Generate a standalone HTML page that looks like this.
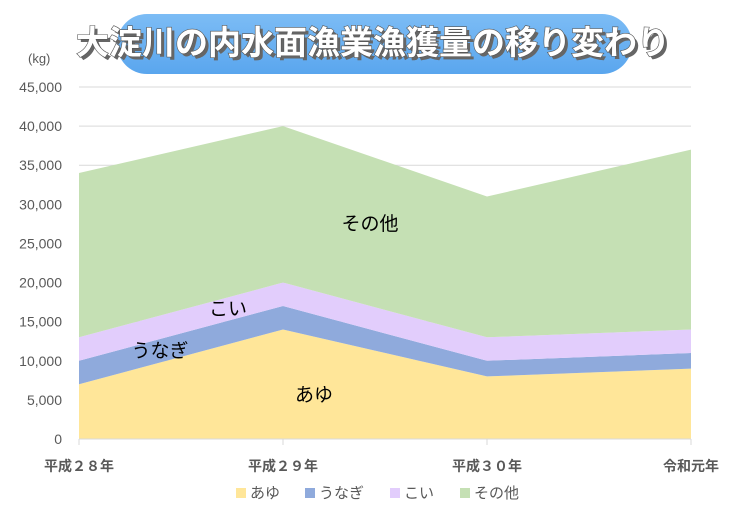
<!DOCTYPE html>
<html><head><meta charset="utf-8"><style>
body{margin:0;background:#fff;width:739px;height:518px;overflow:hidden;font-family:"Liberation Sans","Noto Sans CJK JP",sans-serif}
</style></head><body>
<svg width="739" height="518">
<defs><linearGradient id="tg" x1="0" y1="0" x2="0" y2="1"><stop offset="0" stop-color="#7cbcf5"/><stop offset="1" stop-color="#5aa6ee"/></linearGradient></defs>
<rect x="117" y="14" width="515" height="60" rx="30" fill="url(#tg)"/>
<text x="376" y="57" text-anchor="middle" font-size="33" font-weight="bold" fill="#666" font-family="Liberation Sans, Noto Sans CJK JP, sans-serif">大淀川の内水面漁業漁獲量の移り変わり</text>
<text x="373" y="54" text-anchor="middle" font-size="33" font-weight="bold" fill="#fff" stroke="#555" stroke-width="1.2" paint-order="stroke" font-family="Liberation Sans, Noto Sans CJK JP, sans-serif">大淀川の内水面漁業漁獲量の移り変わり</text>
<text x="28" y="63" font-size="13" fill="#595959">(kg)</text>
<g id="grid"></g><g id="areas"></g><g id="axes"></g><g id="legend"></g>
</svg>
<script>
const categories=["平成２８年","平成２９年","平成３０年","令和元年"];
const seriesNames=["あゆ","うなぎ","こい","その他"];
const ayu=[7000,14000,8000,9000];
const unagi=[3000,3000,2000,2000];
const koi=[3000,3000,3000,3000];
const other=[21000,20000,18000,23000];
const yTicks=[0,5000,10000,15000,20000,25000,30000,35000,40000,45000];
const colors=["#ffe699","#8faadc","#e2cdfc","#c5e0b4"];
const X0=79,X1=691,Y0=439,Y1=87,YMAX=45000;
const xs=i=>X0+(X1-X0)*i/(categories.length-1);
const ys=v=>Y0-(Y0-Y1)*v/YMAX;
const NS="http://www.w3.org/2000/svg";
function mk(t,a,p){const e=document.createElementNS(NS,t);for(const k in a)e.setAttribute(k,a[k]);p.appendChild(e);return e;}
const grid=document.getElementById('grid'),areas=document.getElementById('areas'),axes=document.getElementById('axes'),legend=document.getElementById('legend');
yTicks.forEach(t=>{
 const l=mk('line',{x1:X0,x2:X1,y1:ys(t),y2:ys(t),stroke:'#d9d9d9','stroke-width':1},grid);
 
 
 const tx=mk('text',{x:62,y:ys(t)+5,'text-anchor':'end','font-size':14,fill:'#595959'},axes);
 tx.textContent=t.toLocaleString('en-US');
 
 
});
const series=[ayu,unagi,koi,other];
let base=categories.map(()=>0);
series.forEach((s,si)=>{
 const top=base.map((b,i)=>b+s[i]);
 let pts=top.map((v,i)=>xs(i)+','+ys(v));
 for(let i=base.length-1;i>=0;i--)pts.push(xs(i)+','+ys(base[i]));
 const p=mk('polygon',{points:pts.join(' '),fill:colors[si]},areas);
 
 
 base=top;
});
mk('line',{x1:X0,x2:X1,y1:Y0,y2:Y0,stroke:'#d9d9d9'},axes);
categories.forEach((c,i)=>{
 mk('line',{x1:xs(i),x2:xs(i),y1:Y0,y2:Y0+6,stroke:'#d9d9d9'},axes);
 const tx=mk('text',{x:xs(i),y:471,'text-anchor':'middle','font-size':14,'font-weight':'bold',fill:'#595959'},axes);
 tx.textContent=c;
 
 
});
const labs=[["あゆ",314,401],["うなぎ",160,357],["こい",228,315],["その他",370,230]];
labs.forEach(l=>{
 const t=mk('text',{x:l[1],y:l[2],'text-anchor':'middle','font-size':19,fill:'#000'},axes);
 t.textContent=l[0];
 
 
});
const lx=[236,305,390,460];
seriesNames.forEach((n,i)=>{
 const g=mk('g',{},legend);
 
 
 mk('rect',{x:lx[i],y:488,width:10,height:10,fill:colors[i]},g);
 const t=mk('text',{x:lx[i]+14,y:498,'font-size':15,fill:'#595959'},g);
 t.textContent=n;
});
</script>
</body></html>
